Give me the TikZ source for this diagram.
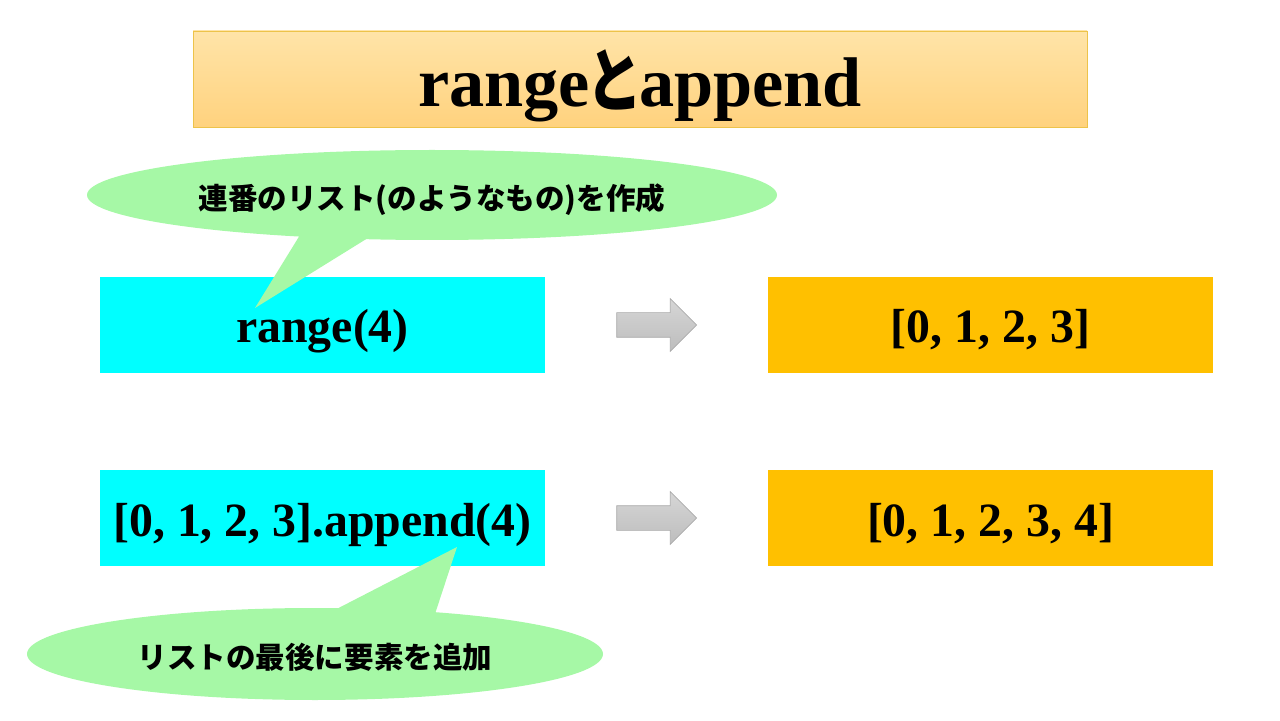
\documentclass[tikz,border=0pt]{standalone}
\usepackage{fontspec}
\setmainfont{Liberation Serif}
\newfontfamily\cjk{Noto Sans CJK JP}
\usetikzlibrary{
  arrows.meta, positioning, calc, shapes.geometric, shapes.arrows
}
\definecolor{tcyan}{HTML}{00FFFF}
\definecolor{torange}{HTML}{FFC000}
\definecolor{tgreen}{HTML}{A6F8A6}
\definecolor{ttop}{HTML}{FFE4A8}
\definecolor{tbot}{HTML}{FFD27E}
\definecolor{tedge}{HTML}{EDC34A}
\definecolor{atop}{HTML}{D6D6D6}
\definecolor{abot}{HTML}{BDBDBD}
\definecolor{aedge}{HTML}{ABABAB}
\tikzset{
  titlebox/.style={
    top color=ttop, bottom color=tbot, draw=tedge, line width=0.6pt,
    minimum width=22.35cm, minimum height=2.4cm, inner sep=0pt,
    text height=1.5cm, text depth=0.1cm,
    font=\fontsize{50}{56}\selectfont\bfseries
  },
  box/.style={
    fill=#1, draw=none, minimum width=11.125cm, minimum height=2.4cm,
    inner sep=0pt, text height=1.0cm, text depth=0.1cm,
    font=\fontsize{34}{40}\selectfont\bfseries
  },
  box/.default=tcyan,
  bubble/.style={
    ellipse, fill=tgreen, draw=none, inner sep=0pt,
    text height=0.75cm, text depth=0.04cm,
    font=\cjk\bfseries\fontsize{21}{25}\selectfont
  },
  tail/.style={fill=tgreen, draw=none},
  blockarr/.style={
    single arrow, single arrow head extend=0.35cm, minimum height=2cm,
    inner xsep=0pt, inner ysep=0.3cm, top color=atop, bottom color=abot,
    draw=aedge, line width=0.5pt
  }
}
\begin{document}
\begin{tikzpicture}
  \useasboundingbox (0,0) rectangle (32,18);
  \node[titlebox] (title) at (16,16.025)
    {range{\cjk\kern-0.05em\scalebox{0.8}[1]{と}\kern-0.05em}append};
  \node[box] (call) at (8.0625,9.875) {range(4)};
  \node[box] (app) at (8.0625,5.05) {[0, 1, 2, 3].append(4)};
  \node[box=torange] (res1) at (24.7625,9.875) {[0, 1, 2, 3]};
  \node[box=torange] (res2) at (24.7625,5.05) {[0, 1, 2, 3, 4]};
  \node[blockarr, xshift=-0.15cm] (arr1) at ($(call.east)!0.5!(res1.west)$) {};
  \node[blockarr, xshift=-0.15cm] (arr2) at ($(app.east)!0.5!(res2.west)$) {};
  % callouts
  \node[bubble, minimum width=17.25cm, minimum height=2.25cm] (note1) at (10.8,13.125)
    {連番のリスト(のようなもの)を作成};
  \coordinate (tip1) at (6.375,10.3);
  \fill[tail] ($(note1.center)+(-3.3,-1.0)$) -- (tip1) -- ($(note1.center)+(-1.4,-0.95)$) -- cycle;
  \node[bubble, minimum width=14.4cm, minimum height=2.3cm] (note2) at (7.875,1.65)
    {リストの最後に要素を追加};
  \coordinate (tip2) at (11.425,4.325);
  \fill[tail] ($(note2.center)+(0.2,0.95)$) -- (tip2) -- ($(note2.center)+(2.95,0.85)$) -- cycle;
\end{tikzpicture}
\end{document}
